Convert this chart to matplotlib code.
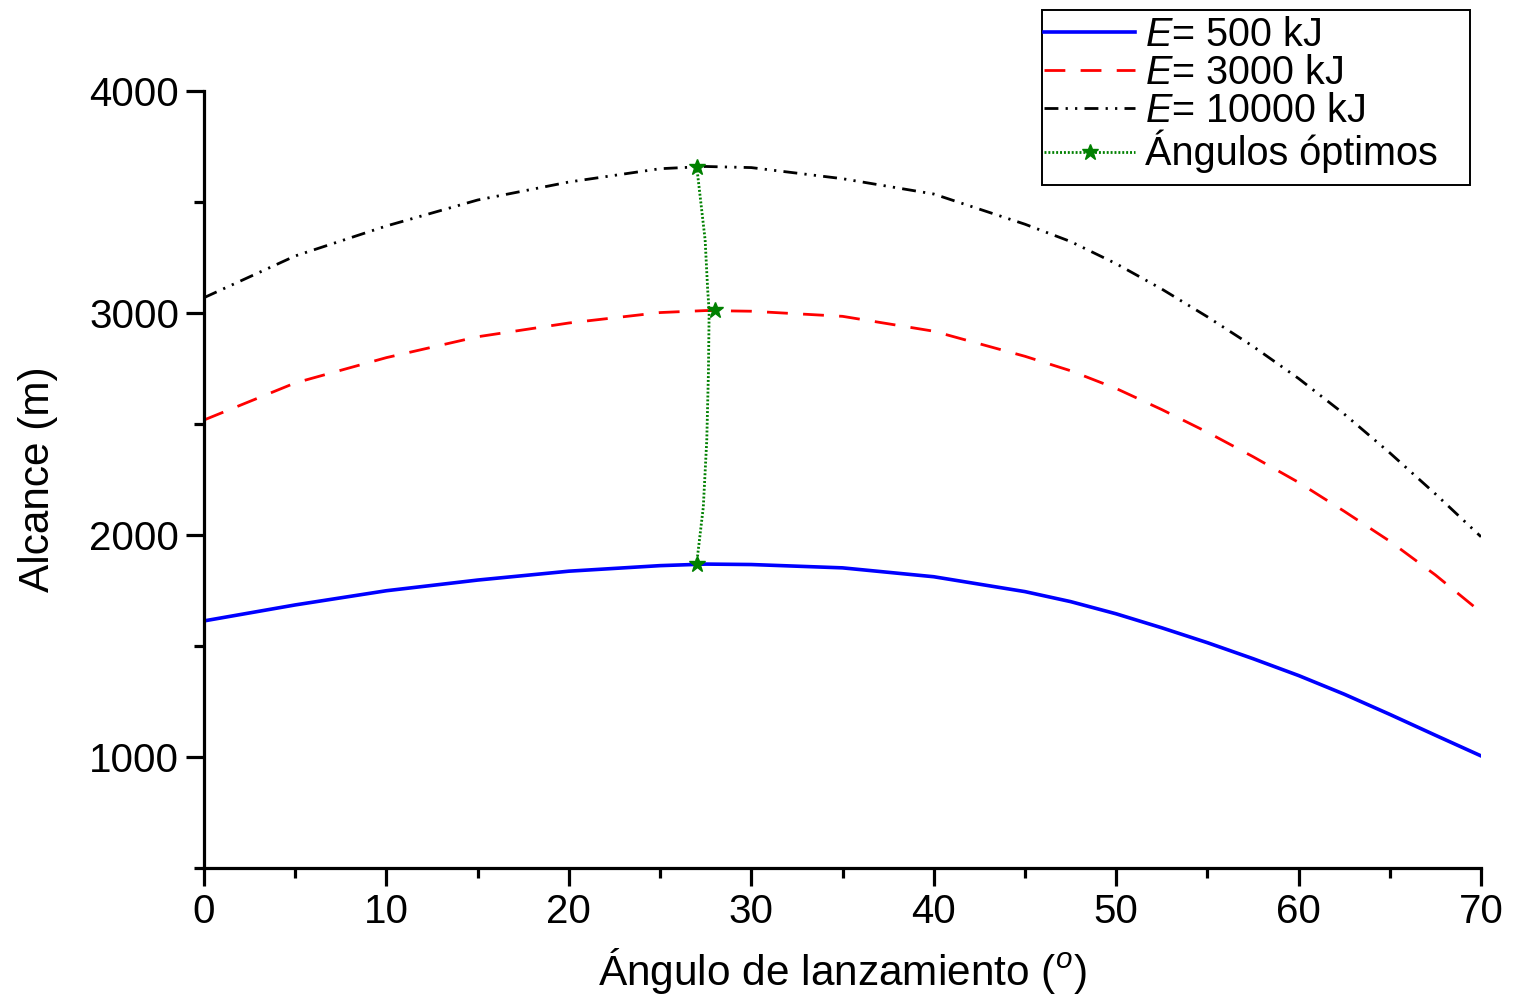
import numpy as np
import matplotlib.pyplot as plt
from matplotlib.lines import Line2D
from matplotlib.patches import Rectangle
from matplotlib.ticker import MultipleLocator

plt.rcParams['font.family'] = ['Liberation Sans', 'DejaVu Sans']
plt.rcParams['mathtext.fontset'] = 'custom'
plt.rcParams['mathtext.rm'] = 'Liberation Sans'
plt.rcParams['mathtext.it'] = 'Liberation Sans:italic'

# DATA #

angle = [0, 5, 10, 15, 20, 25, 27.5, 30, 35, 40, 45, 47.5, 50, 52.5, 55, 57.5, 60, 62.5, 65, 67.5, 70]

range_500 = [1613, 1685, 1749, 1797, 1837, 1862, 1869, 1867, 1852, 1812, 1745,
             1700, 1645, 1582, 1515, 1443, 1367, 1283, 1192, 1098, 1005]
range_3000 = [2518, 2685, 2799, 2893, 2955, 3002, 3011, 3008, 2985, 2918, 2805,
              2740, 2660, 2565, 2463, 2353, 2237, 2107, 1972, 1820, 1652]
range_10000 = [3069, 3257, 3392, 3509, 3590, 3650, 3660, 3655, 3605, 3536, 3400,
               3322, 3222, 3108, 2983, 2850, 2705, 2545, 2370, 2185, 1992]

# angulos optimos (estrellas) y la curva suavizada que los une
opt_angle = [27.0, 28.0, 27.0]
opt_range = [3659, 3012, 1870]
opt_curve_angle = [27.01, 27.47, 27.61, 27.69, 27.65, 27.56, 27.37, 27.01]
opt_curve_range = [3659, 3329, 3104, 3009, 2730, 2428, 2126, 1874]

labels = ['$E$= 500 kJ', '$E$= 3000 kJ', '$E$= 10000 kJ', 'Ángulos óptimos']

# STYLES #

W, H = 1516, 996
blue_kw = dict(color='blue', lw=2.6)
red_kw = dict(color='red', lw=2.0, linestyle=(0, (7.5, 5.5)))
black_kw = dict(color='black', lw=2.0, linestyle=(0, (5, 2.6, 0.8, 2.6, 0.8, 2.6)))
green_kw = dict(color='green', lw=2.0, linestyle=(0, (0.7, 0.7)))

# FIGURE #

fig = plt.figure(figsize=(W / 100, H / 100), dpi=100)
ax = fig.add_axes([204 / W, 1 - 868 / H, (1481 - 204) / W, (868 - 91) / H])

ax.plot(angle, range_500, **blue_kw)
ax.plot(angle, range_3000, **red_kw)
ax.plot(angle, range_10000, **black_kw)
ax.plot(opt_curve_angle, opt_curve_range, **green_kw)
ax.plot(opt_angle, opt_range, linestyle='none', marker='*', color='green', markersize=12)

ax.set_xlim(0, 70)
ax.set_ylim(500, 4000)
ax.xaxis.set_major_locator(MultipleLocator(10))
ax.xaxis.set_minor_locator(MultipleLocator(5))
ax.yaxis.set_major_locator(MultipleLocator(1000))
ax.yaxis.set_minor_locator(MultipleLocator(500))

for s in ['top', 'right']:
    ax.spines[s].set_visible(False)
for s in ['left', 'bottom']:
    ax.spines[s].set_linewidth(2.3)

ax.tick_params(which='major', direction='out', length=13, width=2.3, labelsize=29, pad=5)
ax.tick_params(which='minor', direction='out', length=7, width=2.3)

ax.set_xlabel('Ángulo de lanzamiento ($^o$)', fontsize=30.5, labelpad=11)
ax.set_ylabel('Alcance (m)', fontsize=30.5, labelpad=22)

# leyenda: marco dibujado aparte para reproducir los margenes del original
handles = [
    Line2D([], [], **blue_kw),
    Line2D([], [], **red_kw),
    Line2D([], [], **black_kw),
    Line2D([], [], marker='*', markersize=12, **green_kw),
]
fig.legend(handles, labels, loc='upper left', bbox_to_anchor=(1042 / W, 1 - 14 / H),
           fontsize=28.5, frameon=False, handlelength=2.3, handletextpad=0.25,
           labelspacing=0.0, borderpad=0.05, borderaxespad=0)
fig.patches.append(Rectangle((1042 / W, 1 - 185 / H), (1470 - 1042) / W, 175 / H,
                             transform=fig.transFigure, fill=False,
                             edgecolor='black', lw=1.4))

fig.savefig('out.png', dpi=100)
